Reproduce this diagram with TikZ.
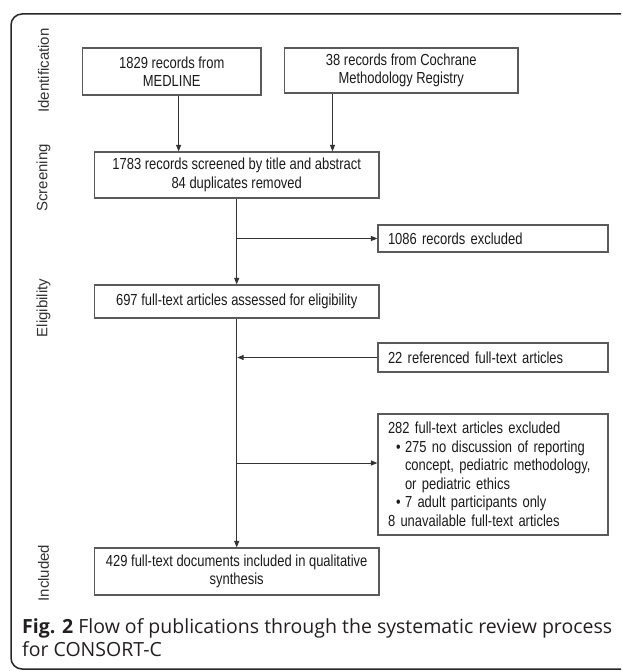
\documentclass[tikz,border=0pt]{standalone}
\usepackage{fontspec}
\usetikzlibrary{arrows.meta}
\setmainfont{Liberation Sans}
\newfontfamily\narrowfont{Liberation Sans}[FakeStretch=0.81]
\newfontfamily\capfont{Open Sans}
\definecolor{boxgray}{HTML}{5A5A5A}
\definecolor{linegray}{HTML}{333333}
\definecolor{txt}{HTML}{1A1A1A}
\definecolor{captxt}{HTML}{231F20}
\begin{document}
\begin{tikzpicture}[x=1pt,y=-1pt,
  box/.style={draw=boxgray, line width=1.2pt, inner sep=0pt, align=center,
    text=txt, font=\narrowfont\fontsize{16}{18.5}\selectfont},
  lbox/.style={box, align=left, inner xsep=10pt},
  arr/.style={draw=linegray, line width=1pt, -{Triangle[length=6.5pt,width=5pt]}},
  phase/.style={rotate=90, text=linegray, font=\fontsize{15}{18}\selectfont},
  capt/.style={anchor=base west, inner sep=0pt, text=captxt, font=\capfont\fontsize{19.5}{23}\selectfont}]
\useasboundingbox (0,0) rectangle (621,671);
\begin{scope}
\clip (0,0) rectangle (621,671);
\draw[draw=black!85, line width=1.5pt, rounded corners=11pt] (660,669) -- (11,669) -- (11,14) -- (660,14);
\end{scope}
% phase labels
\node[phase] (pid) at (43.6,70.5) {Identification};
\node[phase] (psc) at (43.6,178) {Screening};
\node[phase] (pel) at (43.6,308) {Eligibility};
\node[phase] (pin) at (43.6,573) {Included};
% boxes
\node[box, minimum width=178.5pt, minimum height=47pt] (med) at (171.75,71.5) {1829 records from\\MEDLINE};
\node[box, minimum width=233.5pt, minimum height=45pt] (coc) at (401.25,70.5) {38 records from Cochrane\\Methodology Registry};
\node[box, minimum width=284.6pt, minimum height=46pt] (scr) at (236.7,175) {1783 records screened by title and abstract\\84 duplicates removed};
\node[lbox, text width=210pt, minimum height=27pt] (ex1) at (493,238.5) {1086 records excluded};
\node[box, minimum width=284.6pt, minimum height=33pt] (eli) at (236.7,301.5) {697 full-text articles assessed for eligibility};
\node[lbox, text width=210pt, minimum height=29pt] (ref) at (493,357.5) {22 referenced full-text articles};
\node[lbox, text width=210pt, minimum height=121pt] (ex2) at (493,474.5) {282 full-text articles excluded\\
\hspace*{8pt}\makebox[9pt][l]{\textbullet}275 no discussion of reporting\\
\hspace*{17pt}concept, pediatric methodology,\\
\hspace*{17pt}or pediatric ethics\\
\hspace*{8pt}\makebox[9pt][l]{\textbullet}7 adult participants only\\
8 unavailable full-text articles};
\node[box, minimum width=284.6pt, minimum height=47pt] (inc) at (236.7,571.5) {429 full-text documents included in qualitative\\synthesis};
% coordinates for offsets
\coordinate (xm) at (178.6,0);
\coordinate (xc) at (332.5,0);
\coordinate (y2) at (0,463);
% connectors
\draw[arr] (xm |- med.south) -- (xm |- scr.north);
\draw[arr] (xc |- coc.south) -- (xc |- scr.north);
\draw[arr] (scr.south) -- (eli.north);
\draw[arr] (scr.south |- ex1.west) -- (ex1.west);
\draw[arr] (eli.south) -- (inc.north);
\draw[arr] (ref.west) -- ([xshift=0.5pt]eli.south |- ref.west);
\draw[arr] (eli.south |- y2) -- (ex2.west |- y2);
% caption
\node[capt] (c1) at (22,633) {\textbf{Fig. 2} Flow of publications through the systematic review process};
\node[capt] (c2) at (22,656) {for CONSORT-C};
\end{tikzpicture}
\end{document}
